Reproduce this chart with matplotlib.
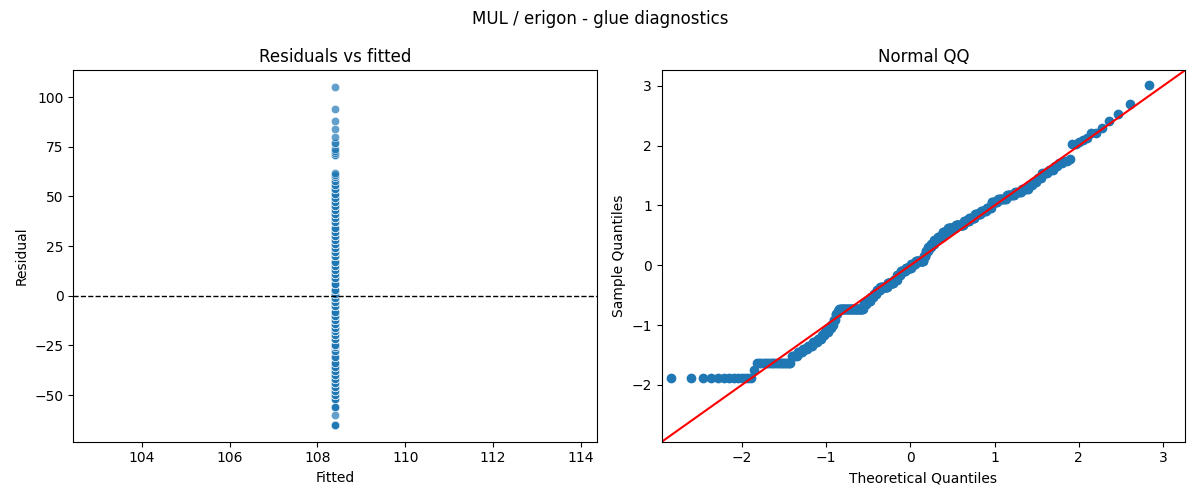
import matplotlib
matplotlib.use("Agg")
import matplotlib.pyplot as plt
import numpy as np
import seaborn as sns
from statistics import NormalDist

# glue ~ 1 model: every fitted value is the same mean
fitted_value = 108.4

resid_levels = [-65, -60, -56,
                -52, -50, -48, -46, -44, -42, -40, -38, -36,
                -34, -31, -28, -26, -25, -22, -20, -18, -16, -14,
                -12, -10, -8, -5, -3, -1, 1, 3, 6, 9, 11,
                13, 15, 17, 20, 22, 24, 26, 28, 30, 32, 34, 37,
                39, 41, 43, 45, 47, 49, 51, 54, 56, 58, 60, 61, 62,
                71, 72, 73, 74, 77, 80, 84, 88, 94, 105]
resid_counts = [13, 1, 20,
                5, 5, 5, 5, 5, 5, 4, 4, 4,
                3, 3, 3, 2, 40, 6, 7, 6, 6, 7,
                14, 13, 7, 7, 11, 11, 10, 16, 5, 5, 6,
                6, 7, 10, 10, 14, 15, 9, 9, 9, 8, 7, 8,
                10, 9, 6, 6, 3, 3, 3, 4, 3, 2, 2, 2, 1,
                2, 1, 1, 1, 2, 1, 1, 1, 1, 1]

resid = np.repeat(np.array(resid_levels, dtype=float), resid_counts)
fitted = np.full(len(resid), fitted_value)

fig, (ax1, ax2) = plt.subplots(1, 2, figsize=(12, 5))

# residuals vs fitted
sns.scatterplot(x=fitted, y=resid, alpha=0.7, ax=ax1)
ax1.axhline(0, color="k", linestyle="--", linewidth=1)
ax1.set_title("Residuals vs fitted")
ax1.set_xlabel("Fitted")
ax1.set_ylabel("Residual")

# normal QQ (standardised sample vs normal quantiles, 45 degree line)
n = len(resid)
theo = np.array([NormalDist().inv_cdf(i / (n + 1)) for i in range(1, n + 1)])
sample = (np.sort(resid) - resid.mean()) / resid.std()
ax2.set_xmargin(0.02)
ax2.plot(theo, sample, marker="o", linestyle="none",
         markerfacecolor="C0", markeredgecolor="C0")
lo = min(ax2.get_xlim()[0], ax2.get_ylim()[0])
hi = max(ax2.get_xlim()[1], ax2.get_ylim()[1])
ax2.plot([lo, hi], [lo, hi], "r-")
ax2.set_xlim(lo, hi)
ax2.set_ylim(lo, hi)
ax2.set_title("Normal QQ")
ax2.set_xlabel("Theoretical Quantiles")
ax2.set_ylabel("Sample Quantiles")

fig.suptitle("MUL / erigon - glue diagnostics")
plt.tight_layout()
plt.savefig("out.png", dpi=100)
